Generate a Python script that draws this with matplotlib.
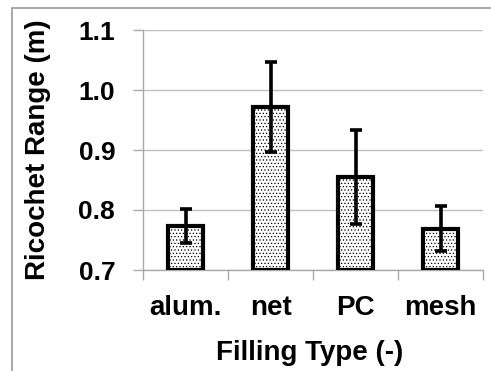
import matplotlib
matplotlib.use("Agg")
import matplotlib.pyplot as plt
from matplotlib.patches import Rectangle
import numpy as np

categories = ["alum.", "net", "PC", "mesh"]
values = [0.773, 0.972, 0.855, 0.769]
errors = [0.028, 0.075, 0.078, 0.037]
yticks = [0.7, 0.8, 0.9, 1.0, 1.1]

plt.rcParams['font.family'] = ['Liberation Sans', 'DejaVu Sans']
plt.rcParams['font.weight'] = 'bold'
plt.rcParams['hatch.color'] = '#a8a8a8'
plt.rcParams['hatch.linewidth'] = 0.5

fig = plt.figure(figsize=(4.91, 3.71), dpi=100)
ax = fig.add_axes([143/491, 1-270/371, 340/491, 240/371])

fig.patches.append(Rectangle((12/491, -0.1), 1.2, 1-8/371+0.1, transform=fig.transFigure,
                             fill=False, edgecolor='#999999', linewidth=1.2))

x = np.arange(len(categories))
ax.bar(x, np.array(values) - 0.7, bottom=0.7, width=0.42, color='white', edgecolor='black',
       linewidth=3.0, hatch='.....', zorder=3)
ax.errorbar(x, values, yerr=errors, fmt='none', ecolor='black', elinewidth=2.6,
            capsize=4.5, capthick=2.6, zorder=4)

ax.set_xlim(-0.5, len(categories) - 0.5)
ax.set_ylim(0.7, 1.1)
ax.set_yticks(yticks)
ax.set_yticklabels([f"{v:.1f}" for v in yticks], fontsize=19, fontweight='bold')
ax.set_xticks(x)
ax.set_xticklabels(categories, fontsize=20, fontweight='bold')
ax.set_xticks(np.arange(len(categories) + 1) - 0.5, minor=True)
ax.tick_params(axis='x', which='major', length=0, pad=18)
ax.tick_params(axis='x', which='minor', length=7, color='#aaaaaa', width=1)
ax.tick_params(axis='y', length=7, color='#aaaaaa', width=1, pad=13)
ax.yaxis.grid(True, color='#c0c0c0', linewidth=1, zorder=0)
ax.set_axisbelow(True)
for s in ['top', 'right']:
    ax.spines[s].set_visible(False)
for s in ['left', 'bottom']:
    ax.spines[s].set_color('#aaaaaa')
    ax.spines[s].set_linewidth(1)

ax.set_ylabel("Ricochet Range (m)", fontsize=20, fontweight='bold')
ax.set_xlabel("Filling Type (-)", fontsize=20, fontweight='bold')
ax.yaxis.set_label_coords(-(143-38)/340, 0.5)
ax.xaxis.set_label_coords(0.49, -(353-270)/240)
ax.xaxis.label.set_va('center')
ax.yaxis.label.set_va('center')

fig.savefig("out.png", dpi=100)
